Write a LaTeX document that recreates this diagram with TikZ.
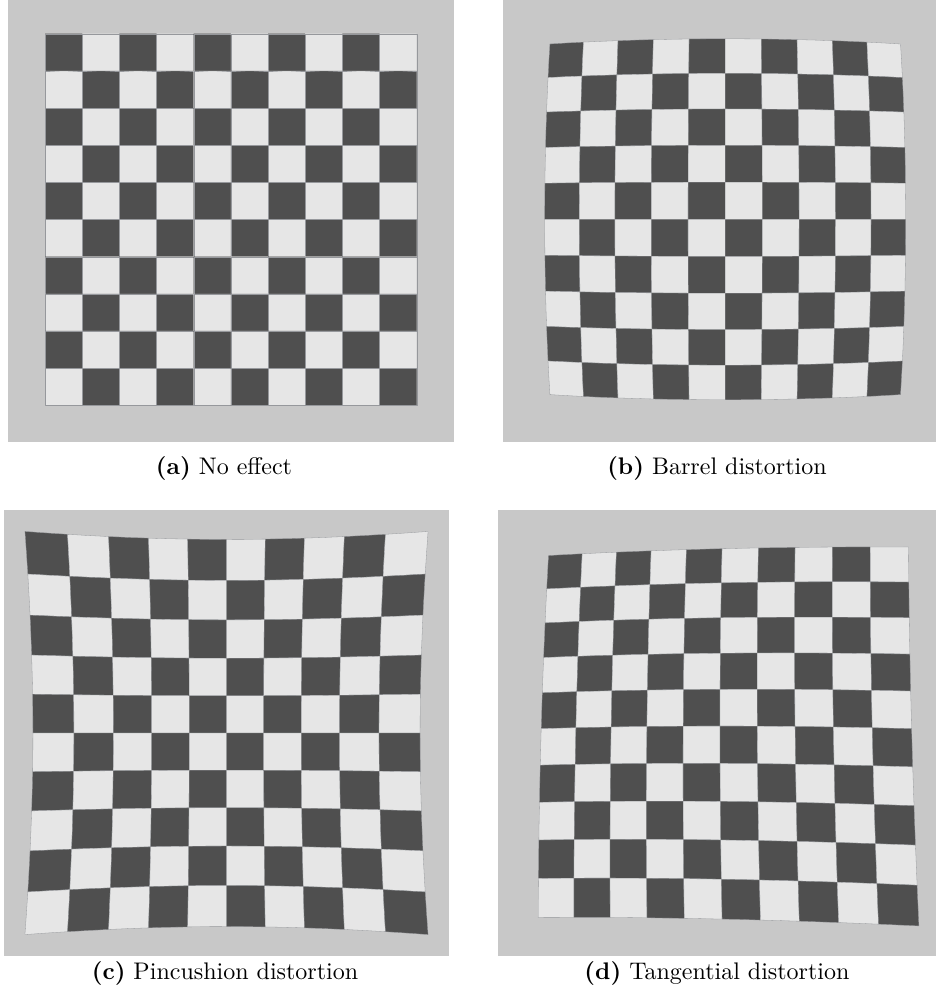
\documentclass[tikz,border=0pt]{standalone}
\usepackage{xcolor}
\definecolor{panelgray}{RGB}{200,200,200}
\definecolor{darksq}{RGB}{79,79,79}
\definecolor{lightsq}{RGB}{230,230,230}
\definecolor{seamgray}{RGB}{150,152,156}
\begin{document}
\begin{tikzpicture}[x=0.4pt,y=-0.4pt,
  declare function={
    RR(\u,\v)=\u*\u+\v*\v;
    XX(\u,\v)=\cx+\hh*(\u*(1+\kk*RR(\u,\v))+2*\pa*\u*\v+\pb*(RR(\u,\v)+2*\u*\u));
    YY(\u,\v)=\cy+\hh*(\v*(1+\kk*RR(\u,\v))+\pa*(RR(\u,\v)+2*\v*\v)+2*\pb*\u*\v);
  },
  panel/.style={fill=panelgray,draw=none},
  darkcell/.style={fill=darksq,draw=seamgray,line width=0.12pt,line join=round},
  lightcell/.style={fill=lightsq,draw=seamgray,line width=0.12pt,line join=round},
  captext/.style={anchor=base,inner sep=0pt,font=\fontsize{9.6}{11.5}\selectfont}
]
\useasboundingbox (0,0) rectangle (936,997);
\newcommand\dpt[2]{({XX(#1,#2)},{YY(#1,#2)})}
\newcommand\board{%
  \foreach \i in {0,...,9}{%
    \foreach \j in {0,...,9}{%
      \pgfmathsetmacro\ua{-1+0.2*\i}%
      \pgfmathsetmacro\um{-0.9+0.2*\i}%
      \pgfmathsetmacro\ub{-0.8+0.2*\i}%
      \pgfmathsetmacro\va{-1+0.2*\j}%
      \pgfmathsetmacro\vm{-0.9+0.2*\j}%
      \pgfmathsetmacro\vb{-0.8+0.2*\j}%
      \pgfmathtruncatemacro\parity{mod(\i+\j,2)}%
      \ifnum\parity=0 \def\cst{darkcell}\else\def\cst{lightcell}\fi
      \path[\cst] \dpt{\ua}{\va} -- \dpt{\um}{\va} -- \dpt{\ub}{\va}
        -- \dpt{\ub}{\vm} -- \dpt{\ub}{\vb} -- \dpt{\um}{\vb}
        -- \dpt{\ua}{\vb} -- \dpt{\ua}{\vm} -- cycle;
    }%
  }%
}
% (a) no effect
\path[panel] (8,0) rectangle (454,442);
\def\cx{230.9}\def\cy{219.5}\def\hh{185.8}\def\kk{0}\def\pa{0}\def\pb{0}
\board
% (b) barrel
\path[panel] (503,0) rectangle (936,442);
\def\cx{725.2}\def\cy{219.3}\def\hh{185.7}\def\kk{-0.028}\def\pa{0}\def\pb{0}
\board
% (c) pincushion
\path[panel] (4,510) rectangle (449,956);
\def\cx{226.5}\def\cy{733}\def\hh{185.6}\def\kk{0.043}\def\pa{0}\def\pb{0}
\board
% (d) tangential
\path[panel] (498,510) rectangle (936,956);
\def\cx{720}\def\cy{726.1}\def\hh{185.2}\def\kk{0}\def\pa{0.014}\def\pb{0.0115}
\board
% captions
\node[captext] (capa) at (224,474) {\textbf{(a)} No effect};
\node[captext] (capb) at (717,474) {\textbf{(b)} Barrel distortion};
\node[captext] (capc) at (225,979) {\textbf{(c)} Pincushion distortion};
\node[captext] (capd) at (717,979) {\textbf{(d)} Tangential distortion};
\end{tikzpicture}
\end{document}
